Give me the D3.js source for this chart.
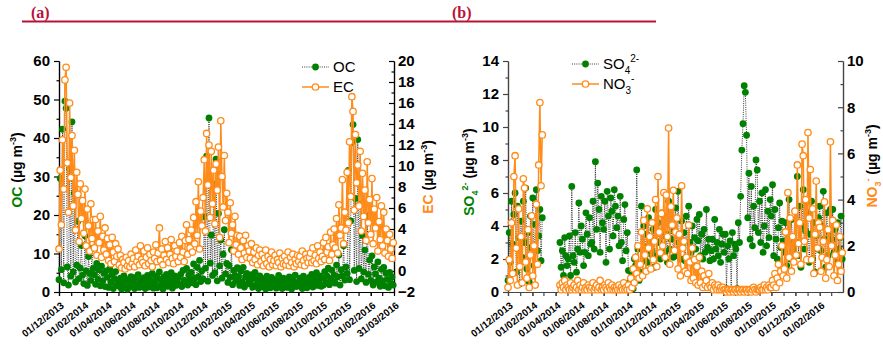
<!DOCTYPE html>
<html><head><meta charset="utf-8">
<script src="https://cdn.jsdelivr.net/npm/d3@7"></script>
<style>body{margin:0;background:#fff}svg{display:block}</style>
</head><body>
<svg id="chart" width="883" height="349"></svg>
<script>
// ---------------- DATA ----------------
// one reading every STEP_DAYS days, starting 01/12/2013 (one row per month)
const START = new Date(2013, 11, 1);
const END = new Date(2016, 2, 31);
const STEP_DAYS = 3;

// Panel (a): OC (µg m-3, left axis)
const ocA = [
 3.2,29.5,5.8,42.3,2.4,49.6,47.7,6.5,1.8,32.0,4.1,
 44.2,5.2,25.7,2.6,7.0,18.4,3.5,6.2,12.1,4.4,
 2.2,14.6,5.5,1.7,9.2,4.8,3.0,11.3,6.1,
 4.5,2.0,7.4,3.3,5.8,1.6,6.7,2.9,4.9,1.4,5.5,
 3.8,1.2,6.0,2.5,4.6,0.9,3.4,5.3,1.8,2.9,
 1.5,3.6,0.8,2.4,4.2,1.1,2.9,0.7,3.3,1.9,
 4.0,1.4,2.7,0.9,3.8,2.1,4.5,1.2,3.0,2.3,
 1.6,3.7,0.9,2.8,4.3,1.3,3.2,2.0,4.8,1.0,
 2.6,4.1,1.1,3.5,5.2,1.8,2.9,0.8,3.9,2.2,4.6,
 1.5,3.4,2.3,5.0,1.0,3.1,4.2,1.7,2.8,3.8,
 2.0,4.6,1.4,5.6,3.0,2.2,6.1,1.8,4.4,3.2,
 5.1,2.4,7.3,3.6,1.9,6.4,4.0,8.2,2.7,5.5,
 3.4,19.6,6.2,35.3,2.8,45.2,7.5,14.8,4.3,28.0,
 5.0,34.5,2.9,20.4,6.8,13.5,3.6,9.8,16.2,4.7,7.4,
 2.5,6.9,3.8,11.0,1.9,5.6,4.2,2.8,6.3,
 4.0,1.7,5.5,2.6,6.4,1.3,3.9,4.8,2.1,3.3,
 2.4,4.5,1.2,3.7,5.1,1.8,2.9,0.9,4.2,2.6,
 1.4,3.5,2.2,0.8,4.1,1.9,3.0,1.1,3.8,2.5,1.6,
 3.2,1.0,2.6,4.3,1.5,2.9,0.9,3.6,2.0,1.3,
 2.7,1.2,3.9,1.8,0.8,3.1,2.3,4.4,1.4,2.5,
 1.6,3.6,2.4,0.9,4.1,1.9,3.2,1.1,2.8,3.8,
 2.1,4.6,1.3,3.4,2.6,5.0,1.7,3.0,4.2,1.5,
 3.6,1.8,5.3,2.4,4.1,6.2,1.9,3.5,5.7,2.7,4.4,
 2.3,7.0,3.9,9.6,1.8,5.8,4.2,12.0,3.1,6.5,
 4.8,31.6,3.2,18.5,38.9,43.5,5.6,24.3,2.7,39.6,
 6.1,22.8,3.4,14.7,5.2,10.9,2.5,19.8,4.6,8.3,
 3.0,9.4,1.8,6.5,4.7,2.6,7.8,3.6,1.5,5.9,
 2.8,6.4,1.6,4.9,3.3,1.2,5.1,2.2,3.9,1.8
];
// Panel (a): EC (µg m-3, right axis)
const ecA = [
 2.1,9.6,4.4,12.5,7.8,18.2,19.4,10.3,5.6,16.0,8.9,
 12.9,6.2,11.5,3.9,9.4,7.3,2.8,8.3,5.0,6.7,
 3.6,7.8,2.4,5.9,4.3,1.9,6.4,3.1,4.9,
 2.2,4.9,1.5,3.8,2.7,5.2,1.3,3.3,2.0,4.1,1.6,
 3.1,1.0,2.5,0.7,3.2,1.8,0.9,2.6,1.4,2.1,
 0.6,1.5,0.3,1.1,0.8,0.2,1.3,0.5,1.0,0.4,
 1.6,0.7,1.2,0.4,2.0,0.9,1.4,0.6,2.4,1.1,
 0.8,1.9,0.5,1.3,2.2,0.7,1.6,1.0,0.4,1.8,
 1.2,2.5,0.9,1.7,4.1,1.0,2.1,0.6,1.5,2.8,1.1,
 2.2,0.8,1.6,3.0,1.2,0.7,2.4,1.4,1.9,0.9,
 2.7,1.3,3.3,1.8,0.9,2.9,4.4,1.6,3.0,2.2,
 3.9,1.8,5.1,2.6,6.6,3.4,8.5,2.1,5.7,4.3,
 7.0,10.6,3.8,13.1,8.2,12.0,5.1,11.4,6.4,9.6,
 4.5,10.2,7.7,11.8,3.2,14.3,9.0,6.1,11.0,4.8,7.4,
 5.6,2.7,6.5,3.6,4.4,1.9,5.2,2.5,3.4,
 1.6,3.3,2.2,1.1,2.9,1.7,3.4,1.3,2.4,1.9,
 1.2,2.6,0.8,1.8,1.1,2.2,0.6,1.5,2.0,0.9,
 1.6,0.5,1.2,2.0,0.7,1.4,0.4,1.1,1.8,0.6,1.0,
 1.5,0.5,1.1,0.8,1.7,0.4,1.2,0.7,1.4,0.6,
 1.0,1.8,0.5,1.3,0.8,1.6,0.4,1.1,0.7,1.5,
 0.9,1.4,0.6,1.9,1.0,0.5,1.6,1.2,0.8,1.3,
 1.7,0.8,2.2,1.0,1.5,0.7,2.4,1.2,1.8,0.9,
 1.4,2.7,1.1,3.2,1.8,2.3,1.0,3.7,1.6,2.5,4.0,
 2.2,5.0,1.7,6.3,3.4,4.1,8.7,2.6,5.6,3.9,
 9.4,4.6,12.3,7.1,16.6,15.2,5.8,13.0,8.4,10.1,
 6.2,11.4,3.8,9.3,5.2,7.7,2.9,10.4,4.6,6.8,
 3.5,8.8,2.6,5.9,4.1,7.0,1.9,4.7,3.0,6.2,
 2.4,5.6,1.7,4.0,2.9,1.4,3.5,2.1,1.2,2.7
];

// Panel (b): SO4 2- (µg m-3, left axis); null = no sample
const so4B = [
 0.7,3.6,1.8,5.5,2.9,4.7,6.0,1.2,5.2,3.3,0.5,
 4.3,2.1,5.5,3.0,6.3,1.4,3.6,0.6,4.6,2.7,
 5.7,1.6,4.1,6.2,2.5,3.4,5.0,1.9,4.5,
 null,null,null,null,null,null,null,null,null,null,null,
 null,null,null,3.0,1.5,2.5,1.0,3.3,2.2,1.6,
 2.0,3.4,1.0,6.4,2.2,1.8,3.6,1.2,2.6,5.4,
 2.4,4.0,3.2,1.6,2.4,4.8,3.5,2.2,4.5,2.9,
 3.0,5.5,2.6,7.9,3.8,6.6,5.0,2.4,5.8,4.2,
 3.8,5.5,1.8,6.1,4.6,2.6,5.7,4.9,3.4,6.2,5.2,
 3.9,4.6,2.8,5.8,3.0,1.9,4.4,5.3,2.5,3.6,
 1.3,0.6,0.4,1.0,0.2,2.0,1.6,7.4,2.6,0.7,
 1.2,5.2,2.8,4.0,2.0,3.5,1.8,4.5,3.1,2.3,
 2.5,3.8,1.5,5.0,2.2,4.2,3.0,2.0,4.8,3.4,
 4.6,2.4,3.5,1.8,5.5,2.6,3.2,4.0,2.1,3.7,5.1,
 2.2,6.1,3.0,2.0,4.3,2.8,3.6,1.9,4.6,
 2.0,5.2,3.0,2.4,4.0,1.8,3.3,2.6,4.4,3.1,
 4.7,2.2,3.5,2.0,3.8,2.4,5.0,2.7,3.2,1.9,
 2.5,3.2,2.0,4.4,2.6,3.0,2.2,3.8,1.8,2.9,3.5,
 2.4,3.5,0.2,2.8,2.0,3.1,0.1,3.6,2.2,2.9,
 2.6,0.2,4.2,3.0,5.8,8.6,10.2,12.5,12.1,9.5,
 4.5,7.2,3.2,6.4,2.8,5.2,3.9,8.0,7.4,3.6,
 5.5,3.0,6.0,2.4,4.0,6.2,2.8,4.9,3.3,5.6,
 4.6,6.5,2.2,5.0,3.2,2.0,3.9,5.4,2.7,4.3,3.1,
 2.4,4.2,1.6,3.5,5.6,2.0,4.4,3.0,2.6,4.9,
 3.0,7.0,2.2,5.2,1.5,4.0,6.2,2.6,3.7,5.5,
 4.8,1.8,3.5,5.5,2.0,4.2,1.2,3.4,2.6,4.5,
 5.2,2.5,4.0,6.1,3.2,1.5,4.8,2.2,3.6,5.0,
 3.2,5.0,2.4,3.8,1.8,4.2,2.6,3.3,4.6,2.0
];
// Panel (b): NO3- (µg m-3, right axis); null = no sample
const no3B = [
 0.2,1.4,0.5,3.0,0.8,5.0,5.9,1.9,0.3,3.6,1.1,
 2.4,0.4,4.9,4.5,1.3,0.6,2.7,0.2,1.6,3.3,
 0.7,2.0,0.3,3.8,1.2,5.5,8.2,4.6,6.8,
 null,null,null,null,null,null,null,null,null,null,null,
 null,null,null,0.3,0.1,0.4,0.2,0.5,0.1,0.3,
 0.2,0.1,0.4,0.1,0.2,0.3,0.1,0.2,0.5,0.1,
 0.3,0.1,0.2,0.4,0.1,0.2,0.1,0.3,0.2,0.1,
 0.2,0.4,0.1,0.2,0.3,0.1,0.2,0.5,0.1,0.2,
 0.1,0.3,0.2,0.1,0.4,0.2,0.1,0.3,0.1,0.2,0.1,
 0.2,0.1,0.3,0.1,0.2,0.1,0.4,0.1,0.2,0.1,
 0.3,0.1,0.6,0.2,1.0,0.4,1.5,0.8,2.0,0.6,
 1.2,2.6,0.7,3.1,1.6,0.9,3.6,1.9,2.4,1.0,
 3.0,1.4,2.2,4.0,1.1,5.0,2.6,1.7,3.4,2.0,
 4.3,1.5,4.2,2.4,7.1,1.2,3.7,2.9,4.4,1.8,2.6,
 3.2,1.0,2.5,0.7,4.6,1.9,2.2,0.9,1.5,
 0.8,2.9,1.3,0.5,1.9,0.6,1.4,0.4,1.1,0.3,
 1.5,0.4,0.9,0.2,0.7,0.3,0.5,0.2,0.8,0.3,
 0.2,0.4,0.1,0.3,0.2,0.1,0.3,0.1,0.2,0.1,0.2,
 0.1,0.1,0.0,0.1,0.1,0.0,0.1,0.1,0.0,0.1,
 0.1,0.0,0.1,0.1,0.0,0.1,0.1,0.0,0.1,0.1,
 0.0,0.1,0.1,0.0,0.1,0.2,0.1,0.0,0.1,0.1,
 0.1,0.2,0.1,0.1,0.3,0.1,0.2,0.1,0.3,0.2,
 0.2,0.5,0.3,0.8,0.2,0.6,1.2,0.4,0.9,2.0,0.7,
 1.0,2.6,0.6,4.3,1.5,3.2,0.9,2.4,1.3,3.5,
 1.6,5.5,2.1,3.0,1.2,6.4,5.9,2.2,4.0,1.4,
 6.9,3.2,5.3,1.4,3.6,0.8,2.5,4.8,1.9,3.0,
 2.8,0.9,1.5,2.2,3.9,0.6,1.4,2.7,1.1,6.5,
 2.0,3.1,0.7,1.6,2.9,0.5,1.2,2.4,0.9,1.7
];

const xTickLabelsA = ["01/12/2013","01/02/2014","01/04/2014","01/06/2014","01/08/2014","01/10/2014","01/12/2014",
  "01/02/2015","01/04/2015","01/06/2015","01/08/2015","01/10/2015","01/12/2015","01/02/2016","31/03/2016"];
const xTickLabelsB = ["01/12/2013","01/02/2014","01/04/2014","01/06/2014","01/08/2014","01/10/2014","01/12/2014",
  "01/02/2015","01/04/2015","01/06/2015","01/08/2015","01/10/2015","01/12/2015","01/02/2016"];
const ocTicks = [0,10,20,30,40,50,60];
const ecTicks = [-2,0,2,4,6,8,10,12,14,16,18,20];
const so4Ticks = [0,2,4,6,8,10,12,14];
const no3Ticks = [0,2,4,6,8,10];

// ---------------- DRAW ----------------
const GREEN = "#008000", ORANGE = "#FF8C1A", RED = "#B8123A";
const FONT = "Liberation Sans, Arial, sans-serif";
const parse = d3.timeParse("%d/%m/%Y");
const svg = d3.select("#chart");
const TOP = 61, BOT = 292;

const toSeries = arr => arr.map((v, i) => ({date: d3.timeDay.offset(START, i * STEP_DAYS), v}));

// header
svg.append("line").attr("x1", 22).attr("x2", 656).attr("y1", 21.5).attr("y2", 21.5)
  .attr("stroke", RED).attr("stroke-width", 2);
[["(a)", 31], ["(b)", 452]].forEach(([t, x]) => svg.append("text").attr("x", x).attr("y", 18)
  .attr("font-family", "Liberation Serif, Times New Roman, serif").attr("font-weight", "bold")
  .attr("font-size", 16).attr("fill", RED).text(t));

function styleAxis(g, color) {
  g.selectAll("path,line").attr("stroke", color).attr("stroke-width", 1.2);
  g.selectAll("text").attr("font-family", FONT).attr("font-weight", "bold").attr("fill", "#000");
}

function titleText(x, y, parts) {
  const t = svg.append("text").attr("transform", `translate(${x},${y}) rotate(-90)`)
    .attr("text-anchor", "middle").attr("font-family", FONT).attr("font-weight", "bold").attr("font-size", 14);
  parts.forEach(p => {
    const s = t.append("tspan").text(p.t).attr("fill", p.fill || "#000");
    if (p.size) s.attr("font-size", p.size);
    if (p.dy) s.attr("dy", p.dy);
  });
}

function legendText(x, y, parts) {
  const t = svg.append("text").attr("x", x).attr("y", y).attr("font-family", FONT).attr("font-size", 15).attr("fill", "#000");
  parts.forEach(p => {
    const s = t.append("tspan").text(p.t);
    if (p.size) s.attr("font-size", p.size);
    if (p.dy) s.attr("dy", p.dy);
    if (p.dx) s.attr("dx", p.dx);
  });
}

function panel(cfg) {
  const x = d3.scaleTime().domain([START, END]).range([cfg.x0, cfg.x1]);
  const yL = d3.scaleLinear().domain(cfg.leftDomain).range([BOT, TOP]);
  const yR = d3.scaleLinear().domain(cfg.rightDomain).range([BOT, TOP]);

  // minor ticks
  svg.append("g").attr("transform", `translate(${cfg.x0},0)`)
    .call(d3.axisLeft(yL).tickValues(cfg.leftMinor).tickSize(2.5).tickFormat("").tickSizeOuter(0))
    .call(g => styleAxis(g, cfg.axisColor));
  svg.append("g").attr("transform", `translate(${cfg.x1},0)`)
    .call(d3.axisRight(yR).tickValues(cfg.rightMinor).tickSizeInner(-2.5).tickSizeOuter(0).tickFormat(""))
    .call(g => styleAxis(g, cfg.axisColor));
  // major
  svg.append("g").attr("transform", `translate(${cfg.x0},0)`)
    .call(d3.axisLeft(yL).tickValues(cfg.leftTicks).tickSizeInner(5).tickSizeOuter(0).tickPadding(4))
    .call(g => { styleAxis(g, cfg.axisColor); g.selectAll("text").attr("font-size", 15); });
  svg.append("g").attr("transform", `translate(${cfg.x1},0)`)
    .call(d3.axisRight(yR).tickValues(cfg.rightTicks).tickSizeInner(-5).tickSizeOuter(0).tickPadding(4))
    .call(g => { styleAxis(g, cfg.axisColor); g.selectAll("text").attr("font-size", 15); });
  // x axis
  svg.append("g").attr("transform", `translate(0,${BOT})`)
    .call(d3.axisBottom(x).tickValues(d3.timeMonth.range(START, END)).tickSize(4).tickSizeOuter(0).tickFormat(""))
    .call(g => styleAxis(g, cfg.axisColor));
  const labelDates = cfg.xLabels.map(parse);
  svg.append("g").attr("transform", `translate(0,${BOT})`)
    .call(d3.axisBottom(x).tickValues(labelDates).tickSize(4).tickSizeOuter(0)
      .tickFormat((d, i) => cfg.xLabels[i]))
    .call(g => {
      styleAxis(g, cfg.axisColor);
      g.selectAll("text").attr("font-size", 10).attr("text-anchor", "end")
        .attr("x", 0).attr("y", 0).attr("dy", "0.35em")
        .attr("transform", "translate(3,12) rotate(-38)");
    });

  // series 1 (left axis, green filled dots, black dotted line)
  const s1 = toSeries(cfg.left);
  const line1 = d3.line().defined(d => d.v != null).x(d => x(d.date)).y(d => yL(d.v));
  svg.append("path").datum(s1).attr("d", line1).attr("fill", "none")
    .attr("stroke", "#222").attr("stroke-width", 0.9).attr("stroke-dasharray", "1,1.2");
  svg.append("g").selectAll("circle").data(s1.filter(d => d.v != null)).join("circle")
    .attr("cx", d => x(d.date)).attr("cy", d => yL(d.v)).attr("r", 3.4).attr("fill", GREEN);

  // series 2 (right axis, orange open circles, orange line)
  const s2 = toSeries(cfg.right);
  const line2 = d3.line().defined(d => d.v != null).x(d => x(d.date)).y(d => yR(d.v));
  svg.append("path").datum(s2).attr("d", line2).attr("fill", "none")
    .attr("stroke", ORANGE).attr("stroke-width", 1.5);
  svg.append("g").selectAll("circle").data(s2.filter(d => d.v != null)).join("circle")
    .attr("cx", d => x(d.date)).attr("cy", d => yR(d.v)).attr("r", 3.2)
    .attr("fill", "#fff").attr("stroke", ORANGE).attr("stroke-width", 1.3);

  // legend
  const lx = cfg.legendX, ly = cfg.legendY;
  svg.append("line").attr("x1", lx).attr("x2", lx + 27).attr("y1", ly).attr("y2", ly)
    .attr("stroke", "#222").attr("stroke-width", 0.9).attr("stroke-dasharray", "1,1.2");
  svg.append("circle").attr("cx", lx + 13.5).attr("cy", ly).attr("r", 3.4).attr("fill", GREEN);
  svg.append("line").attr("x1", lx).attr("x2", lx + 27).attr("y1", ly + 20).attr("y2", ly + 20)
    .attr("stroke", ORANGE).attr("stroke-width", 1.5);
  svg.append("circle").attr("cx", lx + 13.5).attr("cy", ly + 20).attr("r", 3.2)
    .attr("fill", "#fff").attr("stroke", ORANGE).attr("stroke-width", 1.3);
  legendText(lx + 31, ly + 5, cfg.legend1);
  legendText(lx + 31, ly + 25, cfg.legend2);
}

panel({
  x0: 59, x1: 394, axisColor: "#000",
  leftDomain: [0, 60], rightDomain: [-2, 20],
  leftTicks: ocTicks, rightTicks: ecTicks,
  leftMinor: [5, 15, 25, 35, 45, 55], rightMinor: d3.range(-1, 20, 2),
  xLabels: xTickLabelsA, left: ocA, right: ecA,
  legendX: 302, legendY: 67,
  legend1: [{t: "OC"}], legend2: [{t: "EC"}]
});
panel({
  x0: 508, x1: 843, axisColor: "#444",
  leftDomain: [0, 14], rightDomain: [0, 10],
  leftTicks: so4Ticks, rightTicks: no3Ticks,
  leftMinor: d3.range(1, 14, 2), rightMinor: d3.range(1, 10, 2),
  xLabels: xTickLabelsB, left: so4B, right: no3B,
  legendX: 572, legendY: 64,
  legend1: [{t: "SO"}, {t: "4", size: 10, dy: 5}, {t: "2-", size: 10, dy: -12}],
  legend2: [{t: "NO"}, {t: "3", size: 10, dy: 5}, {t: "-", size: 10, dy: -12}]
});

// axis titles
titleText(22, 170, [{t: "OC", fill: GREEN}, {t: " (µg m"}, {t: "-3", size: 9, dy: -6}, {t: ")", dy: 6}]);
titleText(433, 177, [{t: "EC", fill: ORANGE}, {t: " (µg m"}, {t: "-3", size: 9, dy: -6}, {t: ")", dy: 6}]);
titleText(474, 172, [{t: "SO", fill: GREEN}, {t: "4", fill: GREEN, size: 9, dy: 4}, {t: "2-", fill: GREEN, size: 9, dy: -10},
  {t: " (µg m", dy: 6}, {t: "-3", size: 9, dy: -6}, {t: ")", dy: 6}]);
titleText(877, 166, [{t: "NO", fill: ORANGE}, {t: "3", fill: ORANGE, size: 9, dy: 4}, {t: "-", fill: ORANGE, size: 9, dy: -10},
  {t: " (µg m", dy: 6}, {t: "-3", size: 9, dy: -6}, {t: ")", dy: 6}]);
</script>
</body></html>
